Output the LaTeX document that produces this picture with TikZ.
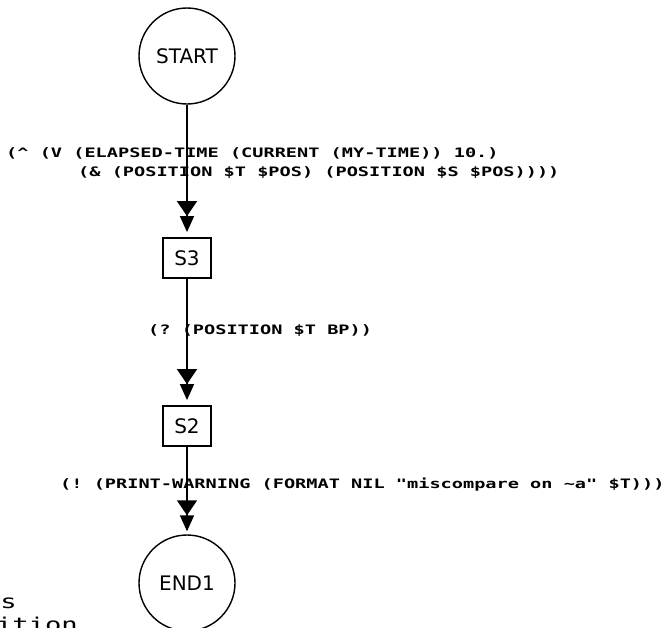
\documentclass[tikz,border=0pt]{standalone}
\usepackage{fontspec}
\usetikzlibrary{arrows.meta}
\newfontfamily\lblfont[FakeStretch=1.43]{DejaVu Sans Mono}
\newfontfamily\nodefont{DejaVu Sans}
\frenchspacing
\begin{document}
\begin{tikzpicture}[x=1pt,y=-1pt,
  statecirc/.style={draw,circle,line width=1.4pt,minimum size=96pt,inner sep=0pt,font=\nodefont\fontsize{20}{24}\selectfont},
  statebox/.style={draw,rectangle,line width=1.8pt,minimum width=48pt,minimum height=40pt,inner sep=0pt,font=\nodefont\fontsize{20}{24}\selectfont},
  lbl/.style={anchor=base west,inner sep=0pt,font=\lblfont\bfseries\fontsize{13}{15}\selectfont},
  arr/.style={line width=1.6pt,-{Triangle[width=20pt,length=15pt]Triangle[width=14pt,length=16pt]}}
]
\useasboundingbox (0,0) rectangle (672,627);
\clip (0,0) rectangle (672,627);
\node[statecirc] (start) at (187,56) {START};
\node[statebox] (s3) at (187,258) {S3};
\node[statebox] (s2) at (187,426) {S2};
\node[statecirc] (end1) at (187,583) {END1};
\draw[arr,shorten >=5pt] (start) -- (s3);
\draw[arr,shorten >=5pt] (s3) -- (s2);
\draw[arr,shorten >=3pt] (s2) -- (end1);
\node[lbl] (l1a) at (6,157) {(\textasciicircum{} (V (ELAPSED-TIME (CURRENT (MY-TIME)) 10.)};
\node[lbl] (l1b) at (78,176) {(\& (POSITION \$T \$POS) (POSITION \$S \$POS))))};
\node[lbl] (l2) at (148,334) {(? (POSITION \$T BP))};
\node[lbl] (l3) at (60,488) {(! (PRINT-WARNING (FORMAT NIL "miscompare on \textasciitilde{}a" \$T)))};
\node[anchor=base east,inner sep=0pt,font=\lblfont\fontsize{19}{22}\selectfont] (ls) at (17,608) {s};
\node[anchor=base east,inner sep=0pt,font=\lblfont\fontsize{19}{22}\selectfont] (lsition) at (78,631) {sition};
\end{tikzpicture}
\end{document}
